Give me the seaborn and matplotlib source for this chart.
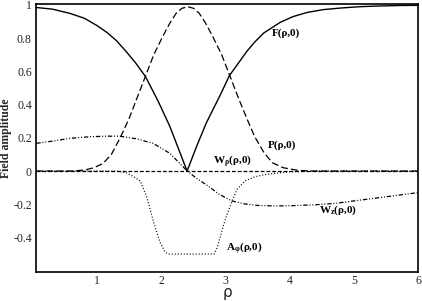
import matplotlib
matplotlib.use("Agg")
import matplotlib.pyplot as plt
import seaborn as sns

# values
rho_F = [0.05, 0.3, 0.57, 0.8, 1.0, 1.15, 1.3, 1.45, 1.6, 1.75, 1.95, 2.13, 2.27, 2.4,
         2.55, 2.7, 2.92, 3.06, 3.2, 3.33, 3.45, 3.59, 3.85, 4.05, 4.27, 4.52, 4.8,
         5.1, 5.4, 5.7, 6.0]
F = [0.985, 0.975, 0.95, 0.92, 0.875, 0.835, 0.785, 0.72, 0.65, 0.57, 0.42, 0.27, 0.13, 0.0,
     0.15, 0.29, 0.46, 0.575, 0.65, 0.72, 0.775, 0.83, 0.895, 0.93, 0.955, 0.972, 0.982,
     0.99, 0.994, 0.997, 0.998]

rho_P = [0.05, 0.6, 0.8, 0.95, 1.09, 1.22, 1.37, 1.5, 1.61, 1.75, 1.88, 2.02, 2.13,
         2.23, 2.32, 2.41, 2.5, 2.59, 2.69, 2.8, 2.94, 3.07, 3.21, 3.35, 3.45, 3.6,
         3.73, 3.9, 4.1, 4.3, 6.0]
P = [0.0, 0.0, 0.006, 0.02, 0.046, 0.1, 0.21, 0.32, 0.43, 0.57, 0.7, 0.81, 0.89,
     0.95, 0.98, 0.99, 0.98, 0.95, 0.89, 0.81, 0.7, 0.57, 0.43, 0.3, 0.21, 0.11,
     0.05, 0.02, 0.006, 0.0, 0.0]

rho_Wr = [0.05, 1.0, 2.0, 3.0, 4.0, 5.0, 6.0]
Wr = [0.0, 0.0, 0.0, 0.0, 0.0, 0.0, 0.0]

rho_Wz = [0.05, 0.3, 0.57, 0.9, 1.15, 1.35, 1.6, 1.87, 2.13, 2.39, 2.55, 2.71, 2.9,
          3.1, 3.3, 3.5, 3.75, 4.0, 4.4, 4.7, 5.0, 5.3, 5.6, 6.0]
Wz = [0.167, 0.18, 0.197, 0.207, 0.21, 0.21, 0.195, 0.167, 0.107, 0.005, -0.045, -0.085, -0.14,
      -0.18, -0.198, -0.207, -0.21, -0.209, -0.203, -0.195, -0.18, -0.165, -0.15, -0.13]

rho_A = [0.05, 1.3, 1.45, 1.55, 1.67, 1.77, 1.88, 1.98, 2.06, 2.12, 2.82, 2.87,
         2.94, 3.0, 3.05, 3.1, 3.18, 3.3, 3.45, 3.6, 3.8, 4.0, 4.3, 6.0]
A = [0.0, 0.0, -0.01, -0.03, -0.06, -0.155, -0.31, -0.43, -0.49, -0.5, -0.5, -0.46,
     -0.365, -0.285, -0.235, -0.18, -0.11, -0.06, -0.035, -0.022, -0.012, -0.005, 0.0, 0.0]

yticks = [1, 0.8, 0.6, 0.4, 0.2, 0, -0.2, -0.4]
ytick_labels = ["1", "0.8", "0.6", "0.4", "0.2", "0", "-0.2", "-0.4"]
xticks = [1, 2, 3, 4, 5, 6]
xtick_labels = ["1", "2", "3", "4", "5", "6"]

sns.set_style("white")
plt.rcParams["font.family"] = ["Liberation Serif", "DejaVu Serif"]

fig = plt.figure(figsize=(4.22, 3.01), dpi=100)
ax = fig.add_axes([0.0853, 0.0963, 0.9053, 0.8904])

sns.lineplot(x=rho_F, y=F, color="black", lw=1.0, ax=ax)
sns.lineplot(x=rho_P, y=P, color="black", lw=0.9, linestyle=(0, (5.5, 2.5)), ax=ax)
sns.lineplot(x=rho_Wr, y=Wr, color="black", lw=0.9, linestyle=(0, (3, 1.6)), ax=ax)
sns.lineplot(x=rho_Wz, y=Wz, color="black", lw=0.9,
             linestyle=(0, (3.5, 1.5, 0.8, 1.5, 0.8, 1.5)), ax=ax)
sns.lineplot(x=rho_A, y=A, color="black", lw=0.9, linestyle=(0, (0.8, 1.6)), ax=ax)

ax.set_xlim(0.045, 6.0)
ax.set_ylim(-0.608, 1.006)
ax.set_xticks(xticks, xtick_labels)
ax.set_yticks(yticks, ytick_labels)
ax.tick_params(length=0, labelsize=8.5, pad=3)
ax.tick_params(axis="x", pad=2)

for s in ax.spines.values():
    s.set_visible(True)
    s.set_color("black")
    s.set_linewidth(1.2)

ax.set_xlabel("ρ", fontsize=11, family="DejaVu Sans")
ax.xaxis.set_label_coords(0.5, -0.047)
ax.set_ylabel("Field amplitude", fontsize=8.5, fontweight="bold")
ax.yaxis.set_label_coords(-0.062, 0.5)

lab = dict(fontsize=8, fontweight="bold", va="center", ha="left", color="black")
ax.text(3.72, 0.83, "F(ρ,0)", **lab)
ax.text(3.66, 0.157, "P(ρ,0)", **lab)
ax.text(2.80, 0.058, r"W$_{\mathregular{ρ}}$(ρ,0)", **lab)
ax.text(4.45, -0.235, r"W$_{\mathregular{z}}$(ρ,0)", **lab)
ax.text(3.0, -0.47, r"A$_{\mathregular{φ}}$(ρ,0)", **lab)

fig.savefig("out.png", dpi=100)
